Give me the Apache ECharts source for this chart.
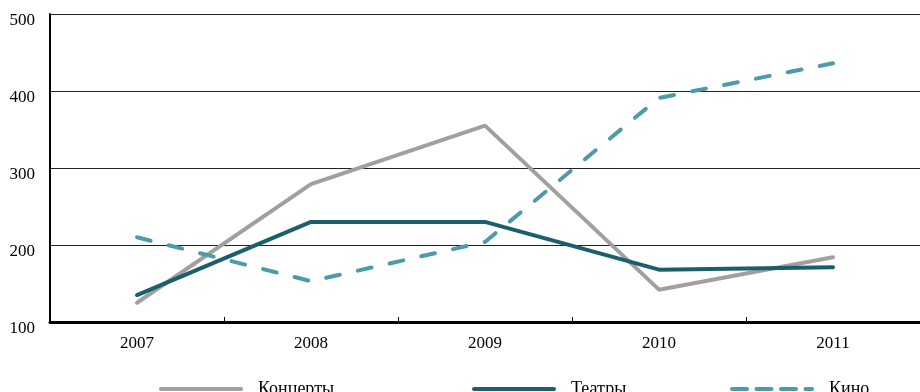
<!DOCTYPE html>
<html><head><meta charset="utf-8">
<script src="https://cdn.jsdelivr.net/npm/echarts@6/dist/echarts.min.js"></script>
<style>html,body{margin:0;padding:0;background:#fff}#c{width:920px;height:392px}</style>
</head><body><div id="c"></div>
<script>
const years = ['2007','2008','2009','2010','2011'];
const concerts = [125, 279, 355, 142, 184];
const theatres = [135, 230, 230, 168, 171];
const cinema = [210, 153, 204, 391, 436];
const seriesNames = ['Концерты','Театры','Кино'];
const yTicks = {min:100, max:500, interval:100};

const font = 'Liberation Serif';
const colors = ['#a0a0a0','#1b5f6e','#4d9ba8'];
const dashed = [false, false, true];
const chart = echarts.init(document.getElementById('c'));
const lineStyleOf = (i, dash) => ({color:colors[i], width:4, type: dashed[i] ? dash : 'solid', cap:'round'});
const mk = (i, data) => ({
  name: seriesNames[i], type:'line', data, symbol:'none', showSymbol:false, smooth:false,
  lineStyle: lineStyleOf(i, [14,18.5]),
  itemStyle:{color:colors[i]}
});
const leg = (i, left) => ({
  data:[seriesNames[i]], left, top:380, padding:0, itemWidth:80, itemHeight:14, itemGap:0,
  itemStyle:{color:'rgba(0,0,0,0)', borderColor:'rgba(0,0,0,0)', borderWidth:0},
  lineStyle: lineStyleOf(i, [15,9.5]),
  textStyle:{fontFamily:font, fontSize:18, color:'#000', padding:[0,0,0,12]}
});
chart.setOption({
  animation:false,
  backgroundColor:'#fff',
  grid:{left:50, right:-5, top:14, bottom:70},
  legend:[leg(0,159), leg(1,472), leg(2,730)],
  xAxis:{type:'category', data:years, boundaryGap:true,
    axisLine:{lineStyle:{color:'#000', width:3}},
    axisTick:{show:true, inside:true, length:5, lineStyle:{color:'#000', width:1}},
    axisLabel:{fontFamily:font, fontSize:17, color:'#000', margin:13}},
  yAxis:{type:'value', min:yTicks.min, max:yTicks.max, interval:yTicks.interval,
    axisLine:{show:true, lineStyle:{color:'#000', width:2}},
    axisTick:{show:false},
    splitLine:{lineStyle:{color:'#222', width:1}},
    axisLabel:{fontFamily:font, fontSize:17, color:'#000', margin:15, verticalAlign:'top', lineHeight:14}},
  series:[mk(0,concerts), mk(1,theatres), mk(2,cinema)]
});
</script></body></html>
